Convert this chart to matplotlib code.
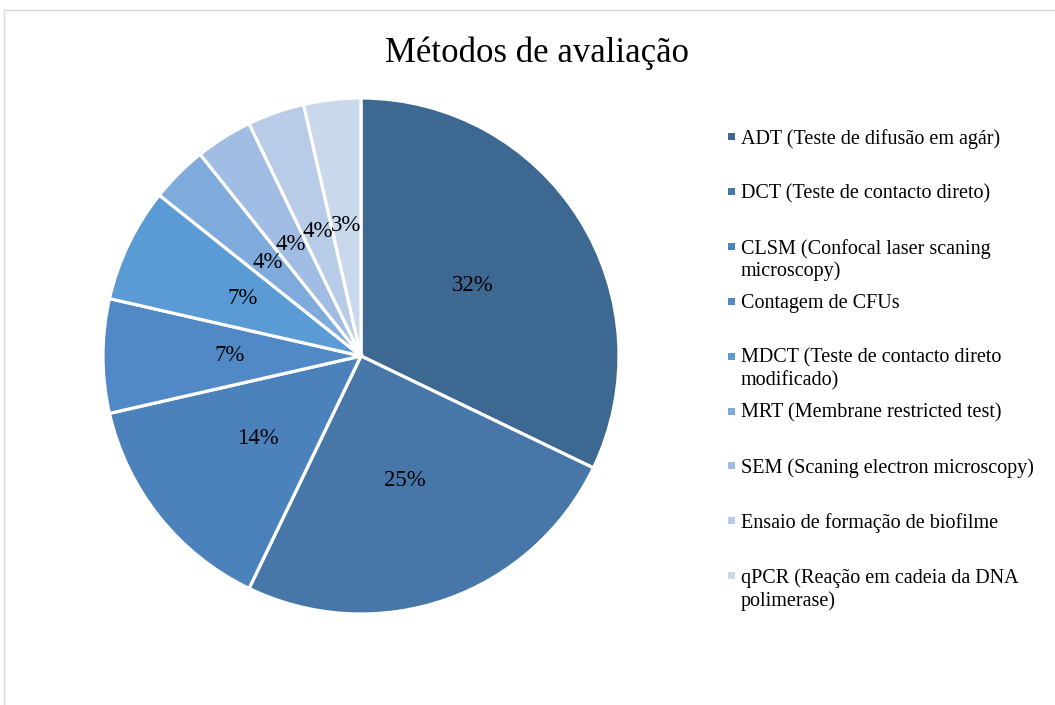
import matplotlib.pyplot as plt
from matplotlib.patches import Rectangle

# Data (slice counts, shown labels)
methods = [
    'ADT (Teste de difusão em agár)',
    'DCT (Teste de contacto direto)',
    'CLSM (Confocal laser scaning\nmicroscopy)',
    'Contagem de CFUs',
    'MDCT (Teste de contacto direto\nmodificado)',
    'MRT (Membrane restricted test)',
    'SEM (Scaning electron microscopy)',
    'Ensaio de formação de biofilme',
    'qPCR (Reação em cadeia da DNA\npolimerase)',
]
counts = [9, 7, 4, 2, 2, 1, 1, 1, 1]
pct_labels = ['32%', '25%', '14%', '7%', '7%', '4%', '4%', '4%', '3%']
colors = ['#3D6891', '#4677A8', '#4C82BC', '#5089C6', '#5B9BD5',
          '#7FAADC', '#A2BDE3', '#B8CCE8', '#CAD8EC']

plt.rcParams['font.family'] = ['Liberation Serif', 'DejaVu Serif']

W, H = 1055, 705
fig = plt.figure(figsize=(W / 100, H / 100), dpi=100)

# pie axes: centre (361, 356) px, radius 258 px
cx, cy, r = 361, 356, 258
ax = fig.add_axes([(cx - r) / W, (H - cy - r) / H, 2 * r / W, 2 * r / H])
wedges, texts = ax.pie(counts, colors=colors, startangle=90, counterclock=False,
                       labels=pct_labels, labeldistance=0.51,
                       wedgeprops=dict(edgecolor='white', linewidth=2.3),
                       textprops=dict(fontsize=16.5, color='black'))
for t in texts:
    t.set_ha('center')
    t.set_va('center')
ax.set_xlim(-1, 1)
ax.set_ylim(-1, 1)
ax.set_aspect('equal')
ax.axis('off')

# title
fig.text(537 / W, 1 - 53 / H, 'Métodos de avaliação', ha='center', va='center',
         fontsize=25)

# legend drawn by hand so multi-line entries stay top aligned
for i, (name, c) in enumerate(zip(methods, colors)):
    y = 137 + i * 54.9
    fig.add_artist(Rectangle((728 / W, 1 - (y + 3) / H), 7 / W, 7 / H,
                             transform=fig.transFigure, facecolor=c,
                             edgecolor='none'))
    fig.text(741 / W, 1 - (y - 8) / H, name, ha='left', va='top',
             fontsize=14.5, linespacing=1.2)

# chart area border (only top and left visible)
fig.add_artist(Rectangle((4 / W, -0.1), 1.2, 1 - 10 / H + 0.1,
                         transform=fig.transFigure, facecolor='none',
                         edgecolor='#D9D9D9', linewidth=1))

fig.savefig('out.png', dpi=100)
